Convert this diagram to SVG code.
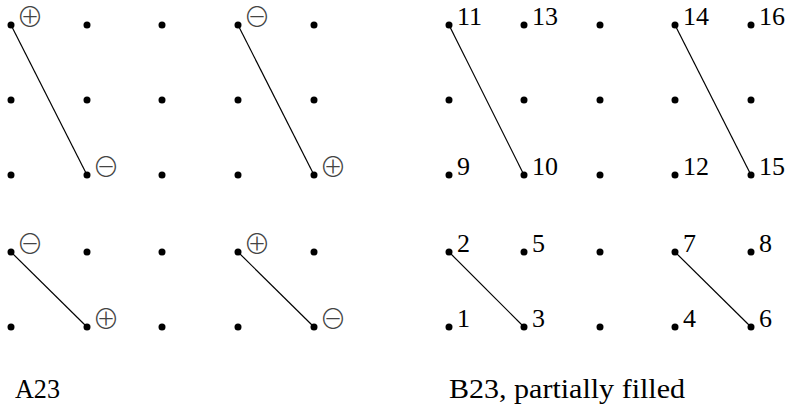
<svg xmlns="http://www.w3.org/2000/svg" width="790" height="411" viewBox="0 0 790 411">
<style>
.dot{fill:#000}
.edge{stroke:#000;stroke-width:1.2;fill:none}
.num{font-size:26px;fill:#000}
.sign{font-weight:200;font-size:27px;fill:#444;text-anchor:middle}
.cap{font-size:27px;fill:#000}
</style>
<defs>
<circle id="d" r="3.5"/>
</defs>
<rect width="790" height="411" fill="#fff"/>
<g id="connectors">
<line class="edge" x1="11" y1="25" x2="87" y2="175"/>
<line class="edge" x1="238" y1="25" x2="314" y2="175"/>
<line class="edge" x1="11" y1="252" x2="87" y2="327"/>
<line class="edge" x1="238" y1="252" x2="314" y2="327"/>
<line class="edge" x1="449" y1="25" x2="524" y2="175"/>
<line class="edge" x1="675" y1="25" x2="751" y2="175"/>
<line class="edge" x1="449" y1="252" x2="524" y2="327"/>
<line class="edge" x1="675" y1="252" x2="751" y2="327"/>
</g>
<g id="gridA">
<g id="a-r1"><use class="dot" href="#d" x="11" y="25"/><use class="dot" href="#d" x="87" y="25"/><use class="dot" href="#d" x="162" y="25"/><use class="dot" href="#d" x="238" y="25"/><use class="dot" href="#d" x="314" y="25"/></g>
<g id="a-r2"><use class="dot" href="#d" x="11" y="100"/><use class="dot" href="#d" x="87" y="100"/><use class="dot" href="#d" x="162" y="100"/><use class="dot" href="#d" x="238" y="100"/><use class="dot" href="#d" x="314" y="100"/></g>
<g id="a-r3"><use class="dot" href="#d" x="11" y="175"/><use class="dot" href="#d" x="87" y="175"/><use class="dot" href="#d" x="162" y="175"/><use class="dot" href="#d" x="238" y="175"/><use class="dot" href="#d" x="314" y="175"/></g>
<g id="a-r4"><use class="dot" href="#d" x="11" y="252"/><use class="dot" href="#d" x="87" y="252"/><use class="dot" href="#d" x="162" y="252"/><use class="dot" href="#d" x="238" y="252"/><use class="dot" href="#d" x="314" y="252"/></g>
<g id="a-r5"><use class="dot" href="#d" x="11" y="327"/><use class="dot" href="#d" x="87" y="327"/><use class="dot" href="#d" x="162" y="327"/><use class="dot" href="#d" x="238" y="327"/><use class="dot" href="#d" x="314" y="327"/></g>
<g id="a-signs" font-family="Noto Sans CJK JP">
<text class="sign" x="30" y="27">⊕</text>
<text class="sign" x="106" y="177">⊖</text>
<text class="sign" x="257" y="27">⊖</text>
<text class="sign" x="333" y="177">⊕</text>
<text class="sign" x="30" y="254">⊖</text>
<text class="sign" x="106" y="329">⊕</text>
<text class="sign" x="257" y="254">⊕</text>
<text class="sign" x="333" y="329">⊖</text>
</g>
</g>
<g id="gridB">
<g id="b-r1"><use class="dot" href="#d" x="449" y="25"/><use class="dot" href="#d" x="524" y="25"/><use class="dot" href="#d" x="600" y="25"/><use class="dot" href="#d" x="675" y="25"/><use class="dot" href="#d" x="751" y="25"/></g>
<g id="b-r2"><use class="dot" href="#d" x="449" y="100"/><use class="dot" href="#d" x="524" y="100"/><use class="dot" href="#d" x="600" y="100"/><use class="dot" href="#d" x="675" y="100"/><use class="dot" href="#d" x="751" y="100"/></g>
<g id="b-r3"><use class="dot" href="#d" x="449" y="175"/><use class="dot" href="#d" x="524" y="175"/><use class="dot" href="#d" x="600" y="175"/><use class="dot" href="#d" x="675" y="175"/><use class="dot" href="#d" x="751" y="175"/></g>
<g id="b-r4"><use class="dot" href="#d" x="449" y="252"/><use class="dot" href="#d" x="524" y="252"/><use class="dot" href="#d" x="600" y="252"/><use class="dot" href="#d" x="675" y="252"/><use class="dot" href="#d" x="751" y="252"/></g>
<g id="b-r5"><use class="dot" href="#d" x="449" y="327"/><use class="dot" href="#d" x="524" y="327"/><use class="dot" href="#d" x="600" y="327"/><use class="dot" href="#d" x="675" y="327"/><use class="dot" href="#d" x="751" y="327"/></g>
<g id="b-labels" font-family="Liberation Serif">
<text class="num" x="457" y="25">11</text>
<text class="num" x="532" y="25">13</text>
<text class="num" x="683" y="25">14</text>
<text class="num" x="759" y="25">16</text>
<text class="num" x="457" y="175">9</text>
<text class="num" x="532" y="175">10</text>
<text class="num" x="683" y="175">12</text>
<text class="num" x="759" y="175">15</text>
<text class="num" x="457" y="252">2</text>
<text class="num" x="532" y="252">5</text>
<text class="num" x="683" y="252">7</text>
<text class="num" x="759" y="252">8</text>
<text class="num" x="457" y="327">1</text>
<text class="num" x="532" y="327">3</text>
<text class="num" x="683" y="327">4</text>
<text class="num" x="759" y="327">6</text>
</g>
</g>
<g id="captions" font-family="Liberation Serif">
<text class="cap" x="15" y="398" textLength="45" lengthAdjust="spacingAndGlyphs">A23</text>
<text class="cap" x="449" y="398" textLength="236" lengthAdjust="spacingAndGlyphs">B23, partially filled</text>
</g>
</svg>
